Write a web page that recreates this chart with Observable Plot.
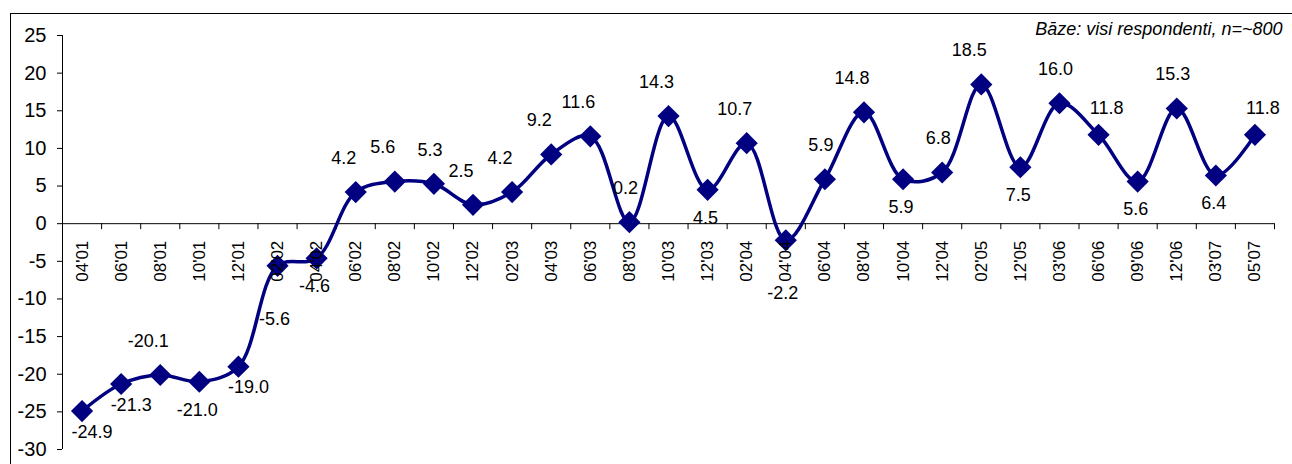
<!DOCTYPE html>
<html>
<head>
<meta charset="utf-8">
<script src="https://cdn.jsdelivr.net/npm/d3@7"></script>
<script src="https://cdn.jsdelivr.net/npm/@observablehq/plot@0.6"></script>
<style>
  html, body { margin: 0; padding: 0; background: #fff; }
  #wrap { position: relative; width: 1292px; height: 464px; overflow: hidden; }
  #frame { position: absolute; left: 10px; top: 13px; width: 1400px; height: 600px; border: 1px solid #000; box-sizing: border-box; pointer-events: none; }
  #chart svg { display: block; }
</style>
</head>
<body>
<div id="wrap"><div id="chart"></div><div id="frame"></div></div>
<script>
const categories = ["04'01","06'01","08'01","10'01","12'01","02'02","04'02","06'02","08'02","10'02","12'02","02'03","04'03","06'03","08'03","10'03","12'03","02'04","04'04","06'04","08'04","10'04","12'04","02'05","12'05","03'06","06'06","09'06","12'06","03'07","05'07"];
const values = [-24.9,-21.3,-20.1,-21.0,-19.0,-5.6,-4.6,4.2,5.6,5.3,2.5,4.2,9.2,11.6,0.2,14.3,4.5,10.7,-2.2,5.9,14.8,5.9,6.8,18.5,7.5,16.0,11.8,5.6,15.3,6.4,11.8];
// where each value label sits relative to its marker (compass side)
const labelSide = ["se","se","nw","s","se","ss","s","nw","nw","n","nw","nw","nw","nw","n","nw","s","nw","ss","n","nw","s","n","nw","s","n","ne","s","n","s","ne"];
const yTicks = [-30,-25,-20,-15,-10,-5,0,5,10,15,20,25];
const note = "Bāze: visi respondenti, n=~800";

const data = categories.map((c, i) => ({i, cat: c, value: values[i], side: labelSide[i]}));
const boundaries = d3.range(categories.length + 1).map(k => k - 0.5);

const offsets = {
  n:  [-4, -34], nw: [-12, -34], ne: [8, -27],
  s:  [-2, 28],  se: [10, 21],   ss: [-3, 53]
};
const navy = "#000080";
const font = "'Liberation Sans', Arial, sans-serif";

const labelMarks = Object.keys(offsets).map(side =>
  Plot.text(data.filter(d => d.side === side), {
    x: "i", y: "value", text: d => d.value.toFixed(1),
    dx: offsets[side][0], dy: offsets[side][1],
    fontSize: 18, fill: "#000"
  })
);

const chart = Plot.plot({
  width: 1292,
  height: 464,
  marginLeft: 62,
  marginRight: 18,
  marginTop: 35,
  marginBottom: 15,
  style: {fontFamily: font, fontSize: "20px", color: "#000", background: "transparent"},
  x: {type: "linear", domain: [-0.5, categories.length - 0.5], axis: null},
  y: {domain: [yTicks[0], yTicks[yTicks.length - 1]], ticks: yTicks, tickSize: 5, tickPadding: 11,
      tickFormat: d => String(d), label: null},
  marks: [
    Plot.ruleX([-0.5], {y1: yTicks[0], y2: yTicks[yTicks.length - 1], stroke: "#000", strokeWidth: 1}),
    Plot.ruleY([0], {stroke: "#000", strokeWidth: 1}),
    Plot.ruleX(boundaries, {x: d => d, y1: () => 0, y2: () => 0, insetBottom: -6, stroke: "#000", strokeWidth: 1}),
    Plot.line(data, {x: "i", y: "value", curve: "catmull-rom", stroke: navy, strokeWidth: 3.5}),
    Plot.dot(data, {x: "i", y: "value", symbol: "diamond2", r: 10, fill: navy, stroke: "none"}),
    Plot.text(data, {x: "i", y: () => 0, text: "cat", rotate: -90, textAnchor: "end", dy: 17, fontSize: 17, fill: "#000"}),
    ...labelMarks,
    Plot.text([note], {frameAnchor: "top-right", text: d => d, textAnchor: "end", dx: 8, dy: -13,
      fontSize: 18, fontStyle: "italic", fill: "#000"})
  ]
});
document.getElementById("chart").appendChild(chart);
</script>
</body>
</html>
